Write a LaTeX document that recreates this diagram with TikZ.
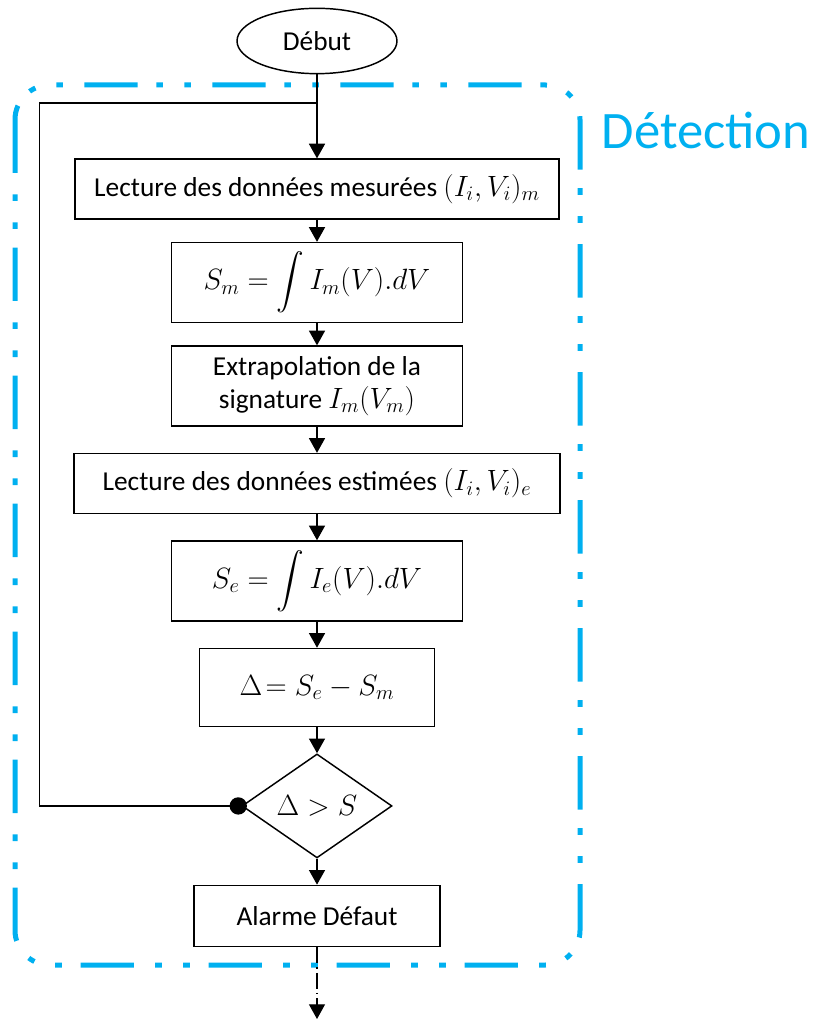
\RequirePackage{fix-cm}
\documentclass[tikz,border=0pt]{standalone}
\usepackage{exscale}
\usepackage{fontspec}
\setmainfont{Carlito}
\usetikzlibrary{positioning, arrows.meta, shapes.geometric}
\definecolor{cadre}{HTML}{00B0F0}
\newcommand{\boxfont}{\fontsize{20.5}{25}\selectfont}
\newcommand{\grand}[1]{{\fontsize{22}{26}\selectfont$#1$}}

\begin{document}
\begin{tikzpicture}[
    x=0.75pt, y=-0.75pt,
    node distance=19.5pt,
    block/.style={draw, line width=1.1pt, minimum height=45pt, inner sep=2pt,
                  font=\boxfont, align=center},
    large/.style={block, minimum width=363pt},
    small/.style={block, minimum width=218pt, minimum height=60pt},
    start/.style={draw, ellipse, line width=1.1pt, minimum width=120pt, minimum height=49pt,
                  inner sep=0pt, font=\boxfont},
    test/.style={draw, diamond, line width=1.1pt, minimum width=112.5pt, minimum height=78pt,
                 inner sep=0pt, font=\boxfont},
    arrow/.style={-{Triangle[length=11pt, width=12pt]}, line width=1.1pt},
    dotarrow/.style={arrow, line width=0.8pt, dash pattern=on 12pt off 3pt on 1pt off 3pt},
    frame/.style={draw=cadre, line width=3.75pt, rounded corners=26pt,
                  dash pattern=on 40pt off 16pt on 5pt off 16pt on 5pt off 14pt},
]
\useasboundingbox (0,0) rectangle (815,1019);

% Cadre de detection
\draw[frame] (15,85) rectangle (580,965);
\node[text=cadre, font=\fontsize{39.5}{46}\selectfont] (titre) at (706,130) {Détection};

\node[start] (debut) at (317,41) {Début};
\node[large, below=63pt of debut] (lectm) {Lecture des données mesurées \grand{(I_i,V_i)_m}};
\node[small, below=16.5pt of lectm] (sm) {\grand{\displaystyle S_m=\int I_m(V).dV}};
\node[small, below=16.5pt of sm] (extra) {Extrapolation de la\\signature \grand{I_m(V_m)}};
\node[large, minimum width=364.5pt, below=of extra] (lecte) {Lecture des données estimées \grand{(I_i,V_i)_e}};
\node[small, below=of lecte] (se) {\grand{\displaystyle S_e=\int I_e(V).dV}};
\node[block, minimum width=176pt, minimum height=58.5pt, below=of se] (delta) {\grand{\Delta\!= S_e-S_m}};
\node[test, below=of delta] (cond) {\grand{\Delta > S}};
\node[block, minimum width=184.5pt, minimum height=46pt, below=of cond] (alarme) {Alarme Défaut};

\coordinate (join) at (317,103);
\coordinate (fin) at (317,1019);

% Enchainement
\draw[arrow] (debut) -- (lectm);
\foreach \a/\b in {lectm/sm, sm/extra, extra/lecte, lecte/se, se/delta, delta/cond, cond/alarme}{
    \draw[arrow] (\a) -- (\b);
}

% Boucle de retour
\draw[line width=1.1pt] (cond.west) -- ++(-202,0) |- (join);
\fill (cond.west) ++(-3,0) circle (6.5pt);

\draw[dotarrow] (alarme) -- (fin);

\end{tikzpicture}
\end{document}
